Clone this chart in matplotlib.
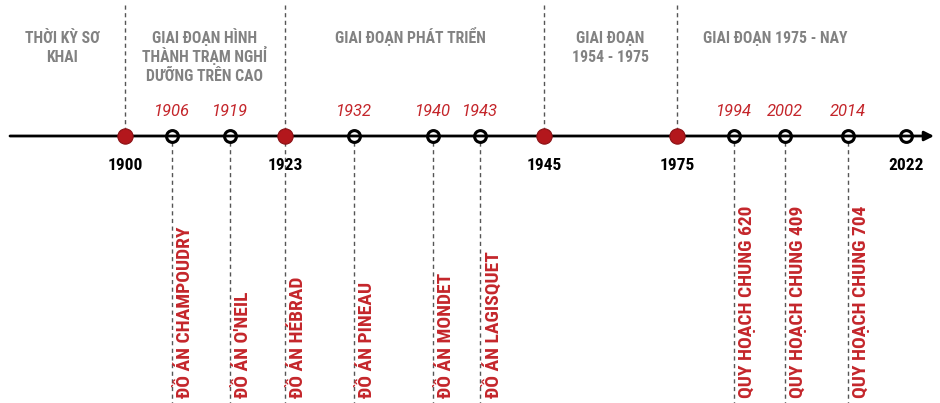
import matplotlib
matplotlib.use('Agg')
import matplotlib.pyplot as plt

plt.rcParams['font.family'] = ['Roboto Condensed', 'DejaVu Sans']

# Timeline data
years = [1900, 1906, 1919, 1923, 1932, 1940, 1943, 1945, 1975, 1994, 2002, 2014, 2022]
major = [True, False, False, True, False, False, False, True, True, False, False, False, False]
events = {
    1906: 'ĐỒ ÁN CHAMPOUDRY',
    1919: "ĐỒ ÁN O'NEIL",
    1923: 'ĐỒ ÁN HÉBRAD',
    1932: 'ĐỒ ÁN PINEAU',
    1940: 'ĐỒ ÁN MONDET',
    1943: 'ĐỒ ÁN LAGISQUET',
    1994: 'QUY HOẠCH CHUNG 620',
    2002: 'QUY HOẠCH CHUNG 409',
    2014: 'QUY HOẠCH CHUNG 704',
}
periods = ['THỜI KỲ SƠ\nKHAI',
           'GIAI ĐOẠN HÌNH\nTHÀNH TRẠM NGHỈ\nDƯỠNG TRÊN CAO',
           'GIAI ĐOẠN PHÁT TRIỂN',
           'GIAI ĐOẠN\n1954 - 1975',
           'GIAI ĐOẠN 1975 - NAY']

# layout (pixel units, timeline is not to scale)
slot_x = [125, 172, 230, 285, 354, 433, 480, 544, 677, 734, 785, 848, 906]
period_x = [62, 205, 410, 610, 775]
line_y = 136

RED = '#b3171c'
TXT_RED = '#c4262b'
GRAY = '#828282'

fig = plt.figure(figsize=(9.4, 4.03), dpi=100)
ax = fig.add_axes([0, 0, 1, 1])
ax.set_xlim(0, 940)
ax.set_ylim(403, 0)
ax.axis('off')

# main axis with arrow
ax.annotate('', xy=(934, line_y), xytext=(10, line_y),
            arrowprops=dict(arrowstyle='-|>', lw=2, color='black', mutation_scale=14,
                            shrinkA=0, shrinkB=0), zorder=2)

dash = dict(color='#555555', lw=1, ls=(0, (3, 2.5)), zorder=1)

for i, (yr, big) in enumerate(zip(years, major)):
    x = slot_x[i]
    if big:
        ax.plot([x, x], [5, line_y], **dash)
        ax.plot(x, line_y, 'o', ms=11, mfc=RED, mec='#8a1014', mew=0.8, zorder=4)
    else:
        ax.plot(x, line_y, 'o', ms=8.5, mfc='none', mec='black', mew=2.2, zorder=4)
    if big or yr == years[-1]:
        ax.text(x, 166, str(yr), ha='center', va='center', fontsize=12.5,
                fontweight='bold', color='black')
    else:
        ax.text(x, 112, str(yr), ha='center', va='center', fontsize=12,
                fontstyle='italic', color=TXT_RED, family=['Roboto', 'DejaVu Sans'])
    if yr in events:
        ax.plot([x, x], [line_y + 6, 403], **dash)
        ax.text(x + 13, 398, events[yr], rotation=90, ha='center', va='bottom',
                fontsize=14, fontweight='bold', color=TXT_RED)

for px, label in zip(period_x, periods):
    for k, row in enumerate(label.split('\n')):
        ax.text(px, 43 + 19 * k, row, ha='center', va='baseline', fontsize=11.3,
                fontweight='bold', color=GRAY)

fig.savefig('out.png', dpi=100)
